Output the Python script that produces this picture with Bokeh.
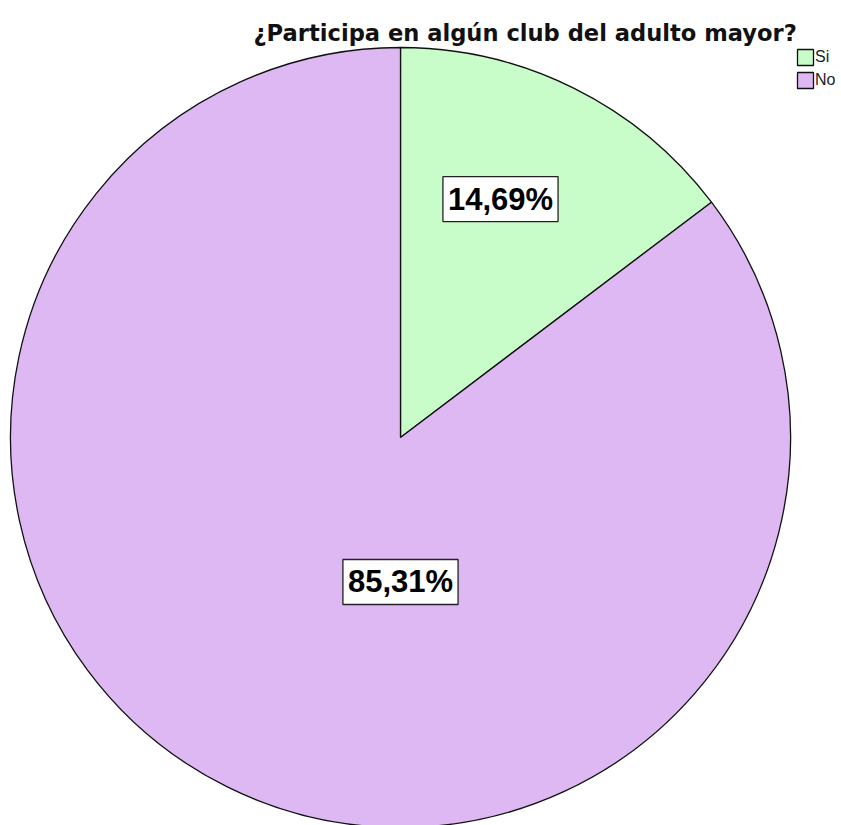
import math
from bokeh.plotting import figure
from bokeh.models import Range1d, ColumnDataSource, Label, Legend, LegendItem
from bokeh.embed import file_html
from bokeh.resources import INLINE

title_text = "¿Participa en algún club del adulto mayor?"
categories = ["Si", "No"]
percents = [14.69, 85.31]
colors = ["#c8fcc9", "#ddb8f2"]
label_texts = ["14,69%", "85,31%"]

W, H = 841, 825
p = figure(width=W, height=H, output_backend="svg", toolbar_location=None,
           x_range=Range1d(0, W), y_range=Range1d(0, H),
           min_border=0, outline_line_color=None)
p.axis.visible = False
p.grid.visible = False
p.background_fill_color = "white"
p.border_fill_color = "white"

cx, cy, r = 400, H - 437, 390

total = sum(percents)
starts, ends = [], []
a = math.pi / 2
for v in percents:
    sweep = v / total * 2 * math.pi
    starts.append(a - sweep)
    ends.append(a)
    a -= sweep

src = ColumnDataSource(dict(cat=categories, start=starts, end=ends, color=colors,
                            x=[cx] * len(categories), y=[cy] * len(categories)))
wr = p.wedge(x="x", y="y", radius=r, start_angle="start", end_angle="end",
             fill_color="color", line_color="#111111", line_width=1.3, source=src)

# labels
label_pos = [(0.663, 67.25), (0.3705, -90.0)]
for (frac, ang), txt in zip(label_pos, label_texts):
    lx = cx + frac * r * math.cos(math.radians(ang))
    ly = cy + frac * r * math.sin(math.radians(ang))
    p.add_layout(Label(x=lx, y=ly, text=txt, text_align="center", text_baseline="middle",
                       text_font="Liberation Sans", text_font_style="bold",
                       text_font_size="31px", text_color="black",
                       background_fill_color="white", border_line_color="#222222",
                       border_line_width=1.3, padding=5))

# title
p.add_layout(Label(x=253, y=H - 32, text=title_text, text_align="left",
                   text_baseline="alphabetic", text_font="DejaVu Sans",
                   text_font_style="bold", text_font_size="22.6px", text_color="#111111"))

items = [LegendItem(label=c, renderers=[wr], index=i) for i, c in enumerate(categories)]
legend = Legend(items=items, location=(795, 735), orientation="vertical",
                glyph_width=20, glyph_height=20, label_width=10, label_height=20,
                spacing=3, padding=0, margin=0, label_standoff=0,
                label_text_font="Liberation Sans", label_text_font_size="16px",
                label_text_color="#222222",
                border_line_color=None, background_fill_alpha=0)
p.add_layout(legend, "center")

open("out.html", "w").write(file_html(p, INLINE))
